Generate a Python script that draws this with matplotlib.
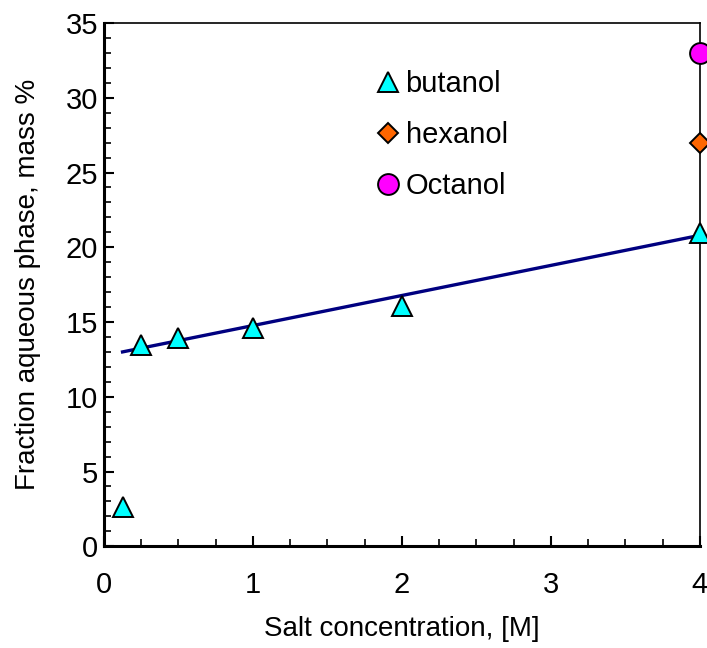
import matplotlib.pyplot as plt
import numpy as np
from matplotlib.ticker import MultipleLocator

plt.rcParams['font.family'] = ['Liberation Sans', 'DejaVu Sans']

# salt concentration [M] vs fraction in aqueous phase [mass %]
butanol_x = [0.125, 0.25, 0.5, 1.0, 2.0, 4.0]
butanol_y = [2.6, 13.45, 13.9, 14.6, 16.05, 20.95]
hexanol_x = [4.0]
hexanol_y = [27.0]
octanol_x = [4.0]
octanol_y = [33.0]

# linear trend for butanol (excluding the lowest concentration)
fit_x = [0.125, 4.0]
fit_y = [13.0, 20.8]

fig = plt.figure(figsize=(7.07, 6.48), dpi=100)
ax = fig.add_axes([0.147, 0.157, 0.843, 0.8075])

ax.plot(fit_x, fit_y, color='#000080', lw=2.4, zorder=2)
ax.plot(butanol_x, butanol_y, ls='none', marker='^', ms=15, mfc='#00ffff',
        mec='black', mew=1.4, label='butanol', clip_on=False, zorder=3)
ax.plot(hexanol_x, hexanol_y, ls='none', marker='D', ms=10, mfc='#ff6600',
        mec='black', mew=1.4, label='hexanol', clip_on=False, zorder=3)
ax.plot(octanol_x, octanol_y, ls='none', marker='o', ms=15, mfc='#ff00ff',
        mec='black', mew=1.4, label='Octanol', clip_on=False, zorder=3)

ax.set_xlim(0, 4)
ax.set_ylim(0, 35)
ax.xaxis.set_major_locator(MultipleLocator(1))
ax.xaxis.set_minor_locator(MultipleLocator(0.25))
ax.yaxis.set_major_locator(MultipleLocator(5))
ax.yaxis.set_minor_locator(MultipleLocator(1))
ax.tick_params(which='both', direction='in', labelsize=21, top=False, right=False)
ax.tick_params(which='major', length=7, width=1.5)
ax.tick_params(which='minor', length=5, width=1.2)
ax.tick_params(axis='x', pad=18)
ax.tick_params(axis='y', pad=4)

ax.spines['left'].set_linewidth(2.2)
ax.spines['bottom'].set_linewidth(2.2)
ax.spines['top'].set_linewidth(1.2)
ax.spines['right'].set_linewidth(1.2)

ax.set_xlabel('Salt concentration, [M]', fontsize=20, labelpad=12)
ax.set_ylabel('Fraction aqueous phase, mass %', fontsize=20, labelpad=18)

ax.legend(loc='upper left', bbox_to_anchor=(0.44, 0.932), frameon=False,
          fontsize=21, handlelength=0.7, handletextpad=0.25, labelspacing=0.78,
          borderaxespad=0, markerscale=1.0)

fig.savefig('out.png', dpi=100)
